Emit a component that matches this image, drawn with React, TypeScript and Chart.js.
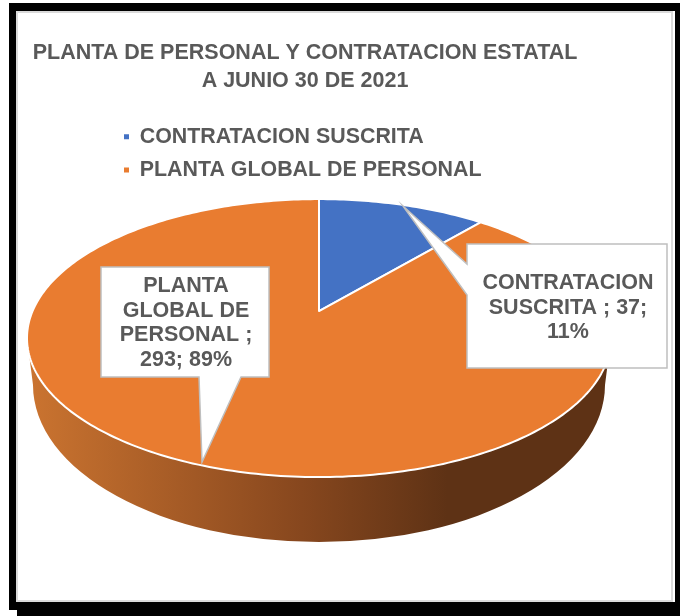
import React, { useEffect, useRef } from "react";
import { Chart, registerables } from "chart.js";

Chart.register(...registerables);

const categories = ["CONTRATACION SUSCRITA", "PLANTA GLOBAL DE PERSONAL"];
const seriesValues = [37, 293];
const sliceColors = ["#4472C4", "#E97C30"];
const titleLines = ["PLANTA DE PERSONAL Y CONTRATACION ESTATAL", "A JUNIO 30 DE 2021"];

const FONT = "'Liberation Sans', Arial, sans-serif";
const TEXT = "#595959";
const SQUASH = 139 / 292; // ellipse height / width of the pie's top face
const TILT = 0.194; // perspective shift of the pie's apex toward the back

const callouts = [
  { x: 467, y: 244, w: 200, h: 124, textX: 568, textY: 283, wrap: 182, tip: [403, 206], side: "left", a: 264, b: 295 },
  { x: 101, y: 267, w: 168, h: 110, textX: 186, textY: 286, wrap: 140, tip: [202, 462], side: "bottom", a: 199, b: 241 },
];

function project(theta: number, cx: number, cy: number, r: number): [number, number] {
  const px = Math.cos(theta);
  const up = -Math.sin(theta);
  const k = 1 + TILT * up;
  const xp = (px * Math.sqrt(1 - TILT * TILT)) / k;
  const yp = (up + TILT) / k;
  return [cx + r * xp, cy - r * SQUASH * yp];
}

const pie3d = {
  id: "pie3d",
  beforeDraw(chart: any) {
    const c = chart.ctx;
    c.save();
    c.fillStyle = "#ffffff";
    c.fillRect(0, 0, 680, 616);
    c.fillStyle = "#000000";
    c.fillRect(9, 3, 668, 8);
    c.fillRect(9, 3, 8, 607);
    c.fillRect(675, 3, 5, 613);
    c.fillRect(17, 602, 663, 14);
    c.strokeStyle = "#DADADA";
    c.lineWidth = 2;
    c.strokeRect(17, 12, 655, 589);
    c.restore();
  },
  afterLayout(chart: any) {
    const t = chart.titleBlock;
    if (t) {
      t.left = 5;
      t.right = 605;
    }
    const l = chart.legend;
    if (l) {
      l.top = 114;
      l.bottom = 114 + l.height;
      l.left -= 3;
      l.right -= 3;
      (l.legendHitBoxes || []).forEach((h: any) => {
        h.top += 114;
        h.left -= 3;
      });
    }
  },
  beforeDatasetDraw(chart: any, args: any) {
    const c = chart.ctx;
    const arcs = chart.getDatasetMeta(args.index).data;
    const { x: cx, y: cy, outerRadius: r } = arcs[0];
    const b = r * SQUASH;
    // side wall
    const wallCy = cy + 47;
    const wallA = r - 6;
    const wallB = 157;
    const g = c.createLinearGradient(cx - r, 0, cx + r, 0);
    g.addColorStop(0, "#CB7430");
    g.addColorStop(0.47, "#87471E");
    g.addColorStop(0.72, "#5E3215");
    g.addColorStop(1, "#5E3215");
    c.save();
    c.beginPath();
    c.moveTo(cx - r, cy);
    c.lineTo(cx - wallA, wallCy);
    c.ellipse(cx, wallCy, wallA, wallB, 0, Math.PI, 0, true);
    c.lineTo(cx + r, cy);
    c.ellipse(cx, cy, r, b, 0, 0, Math.PI, false);
    c.closePath();
    c.fillStyle = g;
    c.fill();
    // top face: each slice takes its angles from the library's arc element
    const apex = [cx, cy - b * TILT];
    arcs.forEach((arc: any) => {
      c.beginPath();
      c.moveTo(apex[0], apex[1]);
      const steps = Math.ceil(((arc.endAngle - arc.startAngle) * 180) / Math.PI);
      for (let i = 0; i <= steps; i++) {
        const [px, py] = project(arc.startAngle + ((arc.endAngle - arc.startAngle) * i) / steps, cx, cy, r);
        c.lineTo(px, py);
      }
      c.closePath();
      c.fillStyle = arc.options.backgroundColor;
      c.fill();
      c.strokeStyle = "#ffffff";
      c.lineWidth = 2;
      c.lineJoin = "round";
      c.stroke();
    });
    c.restore();
    return false;
  },
  afterDatasetsDraw(chart: any) {
    const c = chart.ctx;
    const total = seriesValues.reduce((s, v) => s + v, 0);
    c.save();
    callouts.forEach((o, i) => {
      c.beginPath();
      if (o.side === "left") {
        c.moveTo(o.x, o.y);
        c.lineTo(o.x + o.w, o.y);
        c.lineTo(o.x + o.w, o.y + o.h);
        c.lineTo(o.x, o.y + o.h);
        c.lineTo(o.x, o.b);
        c.lineTo(o.tip[0], o.tip[1]);
        c.lineTo(o.x, o.a);
      } else {
        c.moveTo(o.x, o.y);
        c.lineTo(o.x + o.w, o.y);
        c.lineTo(o.x + o.w, o.y + o.h);
        c.lineTo(o.b, o.y + o.h);
        c.lineTo(o.tip[0], o.tip[1]);
        c.lineTo(o.a, o.y + o.h);
        c.lineTo(o.x, o.y + o.h);
      }
      c.closePath();
      c.fillStyle = "#ffffff";
      c.fill();
      c.strokeStyle = "#BFBFBF";
      c.lineWidth = 1.5;
      c.stroke();
      const text = `${categories[i]} ; ${seriesValues[i]}; ${Math.round((seriesValues[i] / total) * 100)}%`;
      c.font = `bold 21.5px ${FONT}`;
      c.fillStyle = TEXT;
      c.textAlign = "center";
      c.textBaseline = "middle";
      const lines: string[] = [];
      let line = "";
      text.split(" ").forEach((w) => {
        const next = line ? `${line} ${w}` : w;
        if (c.measureText(next).width > o.wrap && line) {
          lines.push(line);
          line = w;
        } else line = next;
      });
      lines.push(line);
      lines.forEach((l, k) => c.fillText(l, o.textX, o.textY + k * 24.7));
    });
    c.restore();
  },
};

export default function App() {
  const ref = useRef<HTMLCanvasElement>(null);
  useEffect(() => {
    document.body.style.margin = "0";
    const chart = new Chart(ref.current as HTMLCanvasElement, {
      type: "pie",
      data: {
        labels: categories,
        datasets: [{ data: seriesValues, backgroundColor: sliceColors, radius: 292, borderWidth: 0 }],
      },
      options: {
        animation: false,
        responsive: false,
        devicePixelRatio: 1,
        layout: { padding: { left: 115, right: 157, top: 40, bottom: 56 } },
        plugins: {
          title: {
            display: true,
            text: titleLines,
            color: TEXT,
            font: { family: FONT, size: 21.5, weight: "bold", lineHeight: 1.26 },
            padding: { top: 0, bottom: 22 },
          },
          legend: {
            position: "chartArea",
            align: "start",
            labels: {
              color: TEXT,
              font: { family: FONT, size: 21.4, weight: "bold" },
              boxWidth: 5,
              boxHeight: 5,
              padding: 12,
            },
          },
          tooltip: { enabled: false },
        },
      } as any,
      plugins: [pie3d],
    });
    return () => chart.destroy();
  }, []);
  return <canvas ref={ref} width={680} height={616} style={{ display: "block" }} />;
}
